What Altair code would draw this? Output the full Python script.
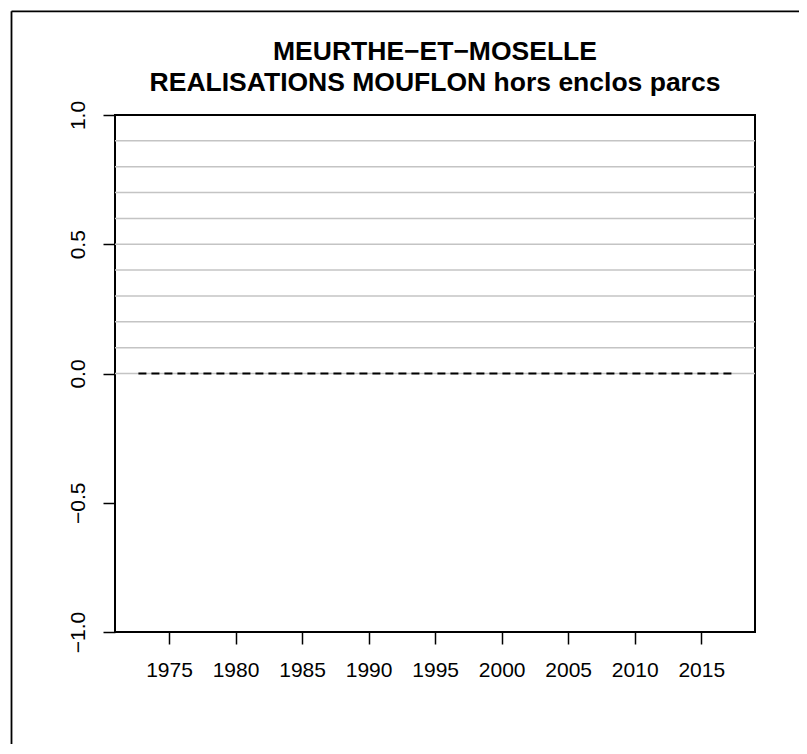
import altair as alt
import pandas as pd

# ---- data ----
title_lines = ["MEURTHE\u2212ET\u2212MOSELLE", "REALISATIONS MOUFLON hors enclos parcs"]
x_domain = [1970.94, 2019.04]
y_domain = [-1.0, 1.0]
x_ticks = [1975, 1980, 1985, 1990, 1995, 2000, 2005, 2010, 2015]
y_ticks = [-1.0, -0.5, 0.0, 0.5, 1.0]
grid_levels = [0.0, 0.1, 0.2, 0.3, 0.4, 0.5, 0.6, 0.7, 0.8, 0.9]
ref_years = [1972.7, 2017.3]
ref_values = [0.0, 0.0]

FONT = "Liberation Sans"

grid_df = pd.DataFrame({"level": grid_levels})
ref_df = pd.DataFrame({"year": ref_years, "value": ref_values})

x_scale = alt.Scale(domain=x_domain, nice=False, zero=False)
y_scale = alt.Scale(domain=y_domain, nice=False, zero=False)

x_axis = alt.Axis(values=x_ticks, format="d", title=None, grid=False, domain=False,
                  tickSize=12, tickWidth=1.5, tickColor="black",
                  labelFontSize=21, labelPadding=15, labelColor="black", labelFont=FONT)
y_axis = alt.Axis(values=y_ticks, format=".1f", title=None, grid=False, domain=False,
                  tickSize=12, tickWidth=1.5, tickColor="black",
                  labelFontSize=21, labelPadding=19, labelColor="black", labelFont=FONT,
                  labelAngle=270, labelAlign="center", labelBaseline="alphabetic")

grid = alt.Chart(grid_df).mark_rule(color="#c4c4c4", strokeWidth=1.5).encode(
    y=alt.Y("level:Q", scale=y_scale, axis=y_axis)
)

ref = alt.Chart(ref_df).mark_line(color="black", strokeWidth=2, strokeDash=[8, 5]).encode(
    x=alt.X("year:Q", scale=x_scale, axis=x_axis),
    y=alt.Y("value:Q", scale=y_scale, axis=y_axis),
)

# outer figure frame (decoration)
frame_left = alt.Chart().mark_rule(color="black", strokeWidth=1.8).encode(
    x=alt.value(-103.5), y=alt.value(-103.7), y2=alt.value(700)
)
frame_top = alt.Chart().mark_rule(color="black", strokeWidth=1.8).encode(
    x=alt.value(-103.5), x2=alt.value(760), y=alt.value(-103.7)
)

chart = alt.layer(grid, ref, frame_left, frame_top).properties(
    width=640,
    height=517,
    padding={"left": 107, "top": 107, "right": 44, "bottom": 112},
    autosize=alt.AutoSizeParams(type="none"),
    title=alt.TitleParams(text=title_lines, font=FONT, fontSize=26.5, fontWeight="bold",
                          color="black", lineHeight=31, anchor="middle", frame="group",
                          offset=-86),
).configure_view(stroke="black", strokeWidth=2)

chart.save("out.html", embed_options={"renderer": "svg", "actions": False})
